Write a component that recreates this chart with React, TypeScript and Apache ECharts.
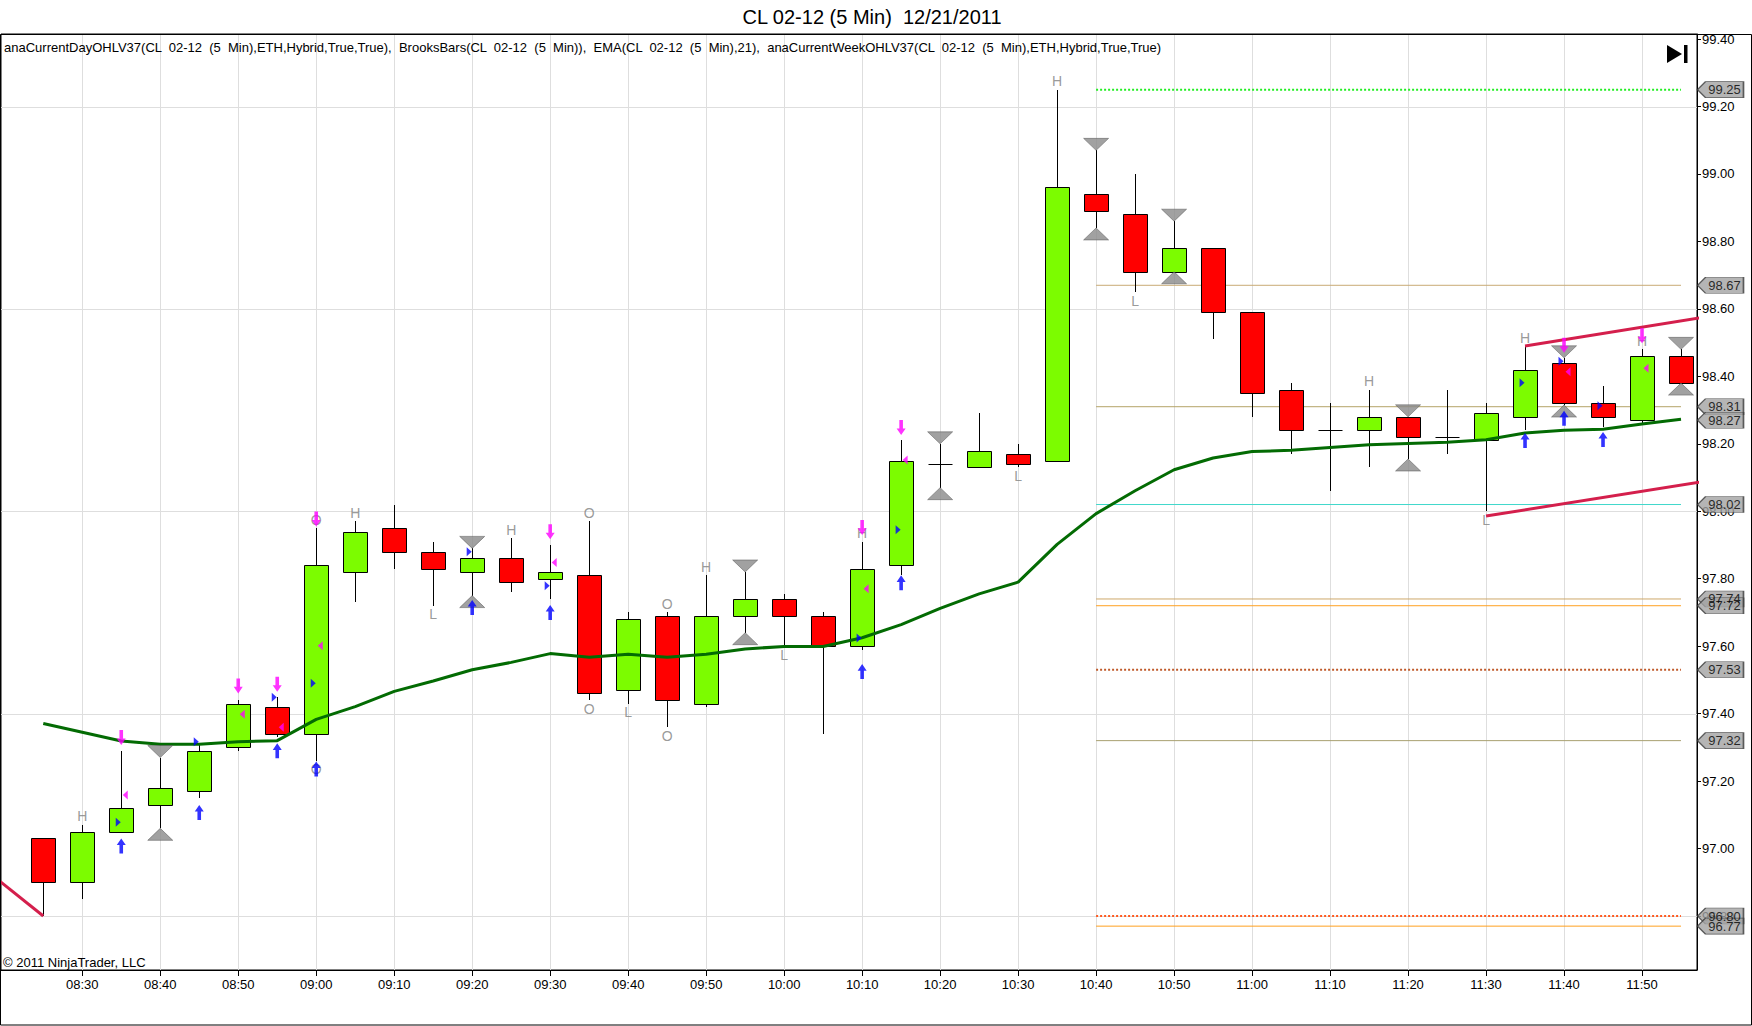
import React, { useEffect, useRef } from 'react';
import * as echarts from 'echarts';

// ---------- data ----------
const times = ['08:25','08:30','08:35','08:40','08:45','08:50','08:55','09:00','09:05','09:10','09:15','09:20','09:25','09:30','09:35','09:40','09:45','09:50','09:55','10:00','10:05','10:10','10:15','10:20','10:25','10:30','10:35','10:40','10:45','10:50','10:55','11:00','11:05','11:10','11:15','11:20','11:25','11:30','11:35','11:40','11:45','11:50','11:55'];
const opens =  [97.03,96.90,97.05,97.13,97.17,97.30,97.42,97.34,97.82,97.95,97.88,97.82,97.86,97.80,97.81,97.47,97.69,97.43,97.69,97.74,97.69,97.60,97.84,98.14,98.13,98.17,98.15,98.94,98.88,98.71,98.78,98.59,98.36,98.24,98.24,98.28,98.22,98.21,98.28,98.44,98.32,98.27,98.46];
const closes = [96.90,97.05,97.12,97.18,97.29,97.43,97.34,97.84,97.94,97.88,97.83,97.86,97.79,97.82,97.46,97.68,97.44,97.69,97.74,97.69,97.60,97.83,98.15,98.14,98.18,98.14,98.96,98.89,98.71,98.78,98.59,98.35,98.24,98.24,98.28,98.22,98.22,98.29,98.42,98.32,98.28,98.46,98.38];
const lows =   [96.80,96.85,97.05,97.06,97.15,97.29,97.33,97.26,97.73,97.83,97.72,97.75,97.76,97.74,97.44,97.43,97.36,97.42,97.64,97.60,97.34,97.59,97.81,98.07,98.13,98.13,98.15,98.84,98.65,98.71,98.51,98.28,98.17,98.06,98.13,98.155,98.17,98.00,98.24,98.315,98.25,98.26,98.38];
const highs =  [97.03,97.07,97.29,97.27,97.31,97.44,97.45,97.95,97.97,98.02,97.91,97.89,97.92,97.90,97.97,97.70,97.70,97.81,97.82,97.755,97.70,97.91,98.21,98.20,98.29,98.20,99.25,99.07,99.00,98.86,98.78,98.59,98.38,98.32,98.36,98.28,98.36,98.32,98.49,98.455,98.37,98.48,98.48];
const ema21 =  [97.371,97.345,97.319,97.309,97.309,97.317,97.320,97.383,97.421,97.466,97.497,97.530,97.552,97.578,97.567,97.576,97.567,97.576,97.592,97.599,97.599,97.625,97.664,97.712,97.755,97.790,97.902,97.993,98.061,98.123,98.158,98.177,98.181,98.189,98.197,98.201,98.205,98.212,98.232,98.240,98.243,98.259,98.273];

const xTickLabels = ['08:30','08:40','08:50','09:00','09:10','09:20','09:30','09:40','09:50','10:00','10:10','10:20','10:30','10:40','10:50','11:00','11:10','11:20','11:30','11:40','11:50'];
const yTickLabels = [96.8,97.0,97.2,97.4,97.6,97.8,98.0,98.2,98.4,98.6,98.8,99.0,99.2,99.4];
const hGridValues = [96.8,97.4,98.0,98.6,99.2];

const levelValues = [99.25,98.67,98.31,98.02,97.74,97.72,97.53,97.32,96.80,96.77];
const levelSpan = ['10:40','11:55'];
const priceTags = [99.25,98.67,98.31,98.27,98.02,97.74,97.72,97.53,97.32,96.80,96.77];

const trendLines = [
  [['08:15',96.985],['08:25',96.80]],
  [['11:35',98.49],['12:00',98.583]],
  [['11:30',97.986],['12:00',98.096]],
];

const grayTriangleBars = ['08:40','09:20','09:55','10:20','10:40','10:50','11:20','11:40','11:55'];
const labelsAbove = [['08:30','H'],['09:00','O'],['09:05','H'],['09:25','H'],['09:35','O'],['09:45','O'],['09:50','H'],['10:10','H'],['10:35','H'],['11:15','H'],['11:35','H'],['11:50','H']];
const labelsBelow = [['09:00','O'],['09:15','L'],['09:35','O'],['09:40','L'],['09:45','O'],['10:00','L'],['10:30','L'],['10:45','L'],['11:30','L']];

const magentaDownArrows = [['08:35',97.307],['08:50',97.46],['08:55',97.465],['09:00',97.955],['09:30',97.917],['10:10',97.93],['10:15',98.226],['11:40',98.47],['11:50',98.498]];
const blueUpArrows = [['08:35',97.03],['08:45',97.129],['08:55',97.312],['09:00',97.258],['09:20',97.737],['09:30',97.722],['10:10',97.547],['10:15',97.81],['11:35',98.232],['11:40',98.298],['11:45',98.235]];
const blueRightMarks = [['08:35',97.078],['08:45',97.317],['08:55',97.449],['09:00',97.49],['09:20',97.88],['09:30',97.779],['10:10',97.624],['10:15',97.945],['11:35',98.381],['11:40',98.445],['11:45',98.313]];
const magentaLeftMarks = [['08:35',97.159],['08:50',97.398],['08:55',97.36],['09:00',97.601],['09:30',97.848],['10:10',97.77],['10:15',98.152],['11:40',98.414],['11:50',98.424]];

const TITLE = 'CL 02-12 (5 Min)  12/21/2011';
const LEGEND = 'anaCurrentDayOHLV37(CL  02-12  (5  Min),ETH,Hybrid,True,True),  BrooksBars(CL  02-12  (5  Min)),  EMA(CL  02-12  (5  Min),21),  anaCurrentWeekOHLV37(CL  02-12  (5  Min),ETH,Hybrid,True,True)';
const COPYRIGHT = '\u00a9 2011 NinjaTrader, LLC';

// ---------- styles ----------
const levelColors = ['#22ee22','#c8aa74','#b4a468','#40d8cc','#cfa86a','#ffa020','#c05a2a','#a8a070','#ff5a20','#ffa020'];
const levelDotted = [true,false,false,false,false,false,true,false,true,false];
const FONT = '"Liberation Sans", Arial, sans-serif';
const X_MIN = 499.58, X_MAX = 717.05, Y_MIN = 96.64, Y_MAX = 99.415;

const toMin = (s: string) => { const [h, m] = s.split(':').map(Number); return h * 60 + m; };
const fmtTime = (v: number) => { const h = Math.floor(v / 60), m = Math.round(v - h * 60); return String(h).padStart(2, '0') + ':' + String(m).padStart(2, '0'); };
const barIdx = (t: string) => times.indexOf(t);

function buildOption() {
  const candleData = times.map((t, i) => [toMin(t), opens[i], closes[i], lows[i], highs[i]]);
  const series: any[] = [];

  // grid lines
  series.push({
    type: 'custom', z: 1, silent: true, data: hGridValues.map(v => [X_MIN, v]), encode: { x: 0, y: 1 },
    renderItem: (params: any, api: any) => {
      const cs = params.coordSys; const y = Math.round(api.coord([X_MIN, api.value(1)])[1]) + 0.5;
      return { type: 'line', shape: { x1: cs.x, y1: y, x2: cs.x + cs.width, y2: y }, style: { stroke: '#dedede', lineWidth: 1 } };
    },
  });
  series.push({
    type: 'custom', z: 1, silent: true, data: xTickLabels.map(t => [toMin(t), Y_MIN]), encode: { x: 0, y: 1 },
    renderItem: (params: any, api: any) => {
      const cs = params.coordSys; const x = Math.round(api.coord([api.value(0), Y_MIN])[0]) + 0.5;
      return { type: 'line', shape: { x1: x, y1: cs.y, x2: x, y2: cs.y + cs.height }, style: { stroke: '#dedede', lineWidth: 1 } };
    },
  });

  // levels
  levelValues.forEach((v, i) => {
    series.push({
      type: 'line', z: 2, silent: true, showSymbol: false, symbol: 'none',
      data: [[toMin(levelSpan[0]), v], [toMin(levelSpan[1]), v]],
      lineStyle: { color: levelColors[i], width: levelDotted[i] ? 2 : 1, type: levelDotted[i] ? 'dotted' : 'solid' },
    });
  });

  // candles
  series.push({
    type: 'custom', z: 3, silent: true, data: candleData, encode: { x: 0, y: [1, 2, 3, 4] },
    renderItem: (params: any, api: any) => {
      const t = api.value(0), o = api.value(1), c = api.value(2), l = api.value(3), h = api.value(4);
      const x = Math.round(api.coord([t, o])[0]) + 0.5;
      const yo = api.coord([t, o])[1], yc = api.coord([t, c])[1], yl = api.coord([t, l])[1], yh = api.coord([t, h])[1];
      const w = 24;
      const top = Math.round(Math.min(yo, yc)) + 0.5, bot = Math.round(Math.max(yo, yc)) + 0.5;
      const children: any[] = [
        { type: 'line', shape: { x1: x, y1: Math.round(yh), x2: x, y2: Math.round(yl) }, style: { stroke: '#000', lineWidth: 1 } },
      ];
      if (bot - top < 1) {
        children.push({ type: 'line', shape: { x1: x - w / 2, y1: top, x2: x + w / 2, y2: top }, style: { stroke: '#000', lineWidth: 1 } });
      } else {
        children.push({ type: 'rect', shape: { x: x - w / 2, y: top, width: w, height: bot - top }, style: { fill: c >= o ? '#7cfc00' : '#ff0000', stroke: '#000', lineWidth: 1 } });
      }
      return { type: 'group', children };
    },
  });

  // EMA
  series.push({
    type: 'line', z: 4, silent: true, showSymbol: false, symbol: 'none',
    data: times.map((t, i) => [toMin(t), ema21[i]]),
    lineStyle: { color: '#036b03', width: 3 },
  });

  // trend lines
  trendLines.forEach(seg => {
    series.push({
      type: 'line', z: 4, silent: true, showSymbol: false, symbol: 'none', clip: true,
      data: seg.map(p => [toMin(p[0] as string), p[1]]),
      lineStyle: { color: '#d41f4c', width: 3 },
    });
  });

  const scatter = (data: any[], symbol: string, size: number[], offset: number[], color: string, extra: any = {}) => ({
    type: 'scatter', z: 6, silent: true, clip: false, data, symbol, symbolSize: size, symbolOffset: offset,
    itemStyle: { color, ...(extra.itemStyle || {}) },
  });

  // gray triangles
  series.push(scatter(grayTriangleBars.map(t => [toMin(t), highs[barIdx(t)]]), 'path://M0,0 L24,0 L12,13 Z', [25, 12], [0, -6], '#8a8a8a', { itemStyle: { borderColor: '#555', borderWidth: 0.6 } }));
  series.push(scatter(grayTriangleBars.map(t => [toMin(t), lows[barIdx(t)]]), 'path://M12,0 L24,13 L0,13 Z', [25, 12], [0, 6], '#8a8a8a', { itemStyle: { borderColor: '#555', borderWidth: 0.6 } }));

  // arrows & small marks
  series.push(scatter(magentaDownArrows.map(p => [toMin(p[0] as string), p[1]]), 'path://M3,0 L7,0 L7,9 L10,9 L5,16 L0,9 L3,9 Z', [9, 15], [0, -7.5], '#ff00ff'));
  series.push(scatter(blueUpArrows.map(p => [toMin(p[0] as string), p[1]]), 'path://M5,0 L10,7 L7,7 L7,16 L3,16 L3,7 L0,7 Z', [9, 15], [0, 7.5], '#0000ff'));
  series.push(scatter(blueRightMarks.map(p => [toMin(p[0] as string), p[1]]), 'path://M0,0 L6,5 L0,10 Z', [5, 9], [-3, 0], '#0000ff'));
  series.push(scatter(magentaLeftMarks.map(p => [toMin(p[0] as string), p[1]]), 'path://M6,0 L0,5 L6,10 Z', [5, 9], [4, 0], '#ff00ff'));

  // gray text labels
  const textLabelSeries = (list: string[][], above: boolean) => ({
    type: 'scatter', z: 5, silent: true, clip: false, symbol: 'circle', symbolSize: 1,
    itemStyle: { color: 'rgba(0,0,0,0)' },
    data: list.map(([t, s]) => ({ value: [toMin(t), above ? highs[barIdx(t)] : lows[barIdx(t)]], name: s })),
    label: { show: true, position: above ? 'top' : 'bottom', distance: 1, formatter: (p: any) => p.name, color: '#808080', fontSize: 14, fontFamily: FONT },
  });
  series.push(textLabelSeries(labelsAbove, true));
  series.push(textLabelSeries(labelsBelow, false));

  // price tags on the axis
  series.push({
    type: 'scatter', z: 10, silent: true, clip: false,
    data: priceTags.map(v => [X_MAX, v]),
    symbol: 'path://M0,8 L8,0 L46,0 L46,16 L8,16 Z', symbolSize: [46, 16], symbolOffset: [23.5, 0],
    itemStyle: { color: '#a2a2a2', borderColor: '#3a3a3a', borderWidth: 1 },
    label: { show: true, position: 'inside', offset: [4, 0], color: '#000', fontSize: 13, fontFamily: FONT, formatter: (p: any) => p.value[1].toFixed(2) },
  });

  return {
    animation: false,
    backgroundColor: '#ffffff',
    grid: { left: 1, right: 55, top: 34, bottom: 56, show: true, borderColor: '#000', borderWidth: 1, backgroundColor: '#fff' },
    xAxis: {
      type: 'value', min: X_MIN, max: X_MAX,
      axisLine: { show: true, lineStyle: { color: '#000', width: 1 } },
      axisTick: { show: true, length: 6, inside: false, customValues: xTickLabels.map(toMin), lineStyle: { color: '#000' } },
      axisLabel: { show: true, customValues: xTickLabels.map(toMin), formatter: (v: number) => fmtTime(v), color: '#000', fontSize: 13, fontFamily: FONT, margin: 8 },
      splitLine: { show: false },
    },
    yAxis: {
      type: 'value', position: 'right', min: Y_MIN, max: Y_MAX, scale: true,
      axisLine: { show: true, lineStyle: { color: '#000', width: 1 } },
      axisTick: { show: true, length: 4, inside: false, customValues: yTickLabels, lineStyle: { color: '#000' } },
      axisLabel: { show: true, customValues: yTickLabels, formatter: (v: number) => v.toFixed(2), color: '#000', fontSize: 13, fontFamily: FONT, margin: 5 },
      splitLine: { show: false },
    },
    series,
    graphic: [
      { type: 'rect', z: 100, shape: { x: 1698, y: 0, width: 54, height: 34 }, style: { fill: '#fff' } },
      { type: 'text', z: 101, x: 872, y: 17, style: { text: TITLE, fontSize: 20, fontFamily: FONT, fill: '#000', align: 'center', verticalAlign: 'middle' } },
      { type: 'text', z: 101, x: 4, y: 47, style: { text: LEGEND, fontSize: 13, fontFamily: FONT, fill: '#000', align: 'left', verticalAlign: 'middle' } },
      { type: 'text', z: 101, x: 3, y: 962, style: { text: COPYRIGHT, fontSize: 13, fontFamily: FONT, fill: '#000', align: 'left', verticalAlign: 'middle' } },
      { type: 'polygon', z: 101, shape: { points: [[1667, 45], [1682, 54], [1667, 63]] }, style: { fill: '#000' } },
      { type: 'rect', z: 101, shape: { x: 1684, y: 45, width: 3.5, height: 18 }, style: { fill: '#000' } },
      { type: 'rect', z: 102, shape: { x: 0.5, y: 34.5, width: 1751, height: 990.5 }, style: { fill: 'none', stroke: '#000', lineWidth: 1 } },
    ],
  };
}

export default function App() {
  const ref = useRef<HTMLDivElement>(null);
  useEffect(() => {
    if (!ref.current) return;
    const chart = echarts.init(ref.current, undefined, { renderer: 'svg' });
    chart.setOption(buildOption() as any);
    return () => chart.dispose();
  }, []);
  return <div ref={ref} style={{ position: 'absolute', left: 0, top: 0, width: 1752, height: 1026, background: '#fff' }} />;
}
